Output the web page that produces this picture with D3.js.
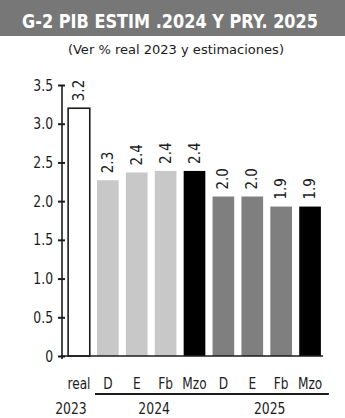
<!DOCTYPE html>
<html><head><meta charset="utf-8">
<script src="https://cdn.jsdelivr.net/npm/d3@7/dist/d3.min.js"></script>
<style>
body{margin:0;background:#fff;}
text{font-family:"DejaVu Sans Condensed","DejaVu Sans",sans-serif;font-stretch:condensed;}
</style></head>
<body><svg id="c" width="345" height="418"></svg>
<script>
const categories = ["real","D","E","Fb","Mzo","D","E","Fb","Mzo"];
const values = [3.2, 2.27, 2.37, 2.39, 2.39, 2.06, 2.06, 1.93, 1.93];
const valueLabels = ["3.2","2.3","2.4","2.4","2.4","2.0","2.0","1.9","1.9"];
const groups = ["2023","2024","2024","2024","2024","2025","2025","2025","2025"];
const yTicks = [0,0.5,1.0,1.5,2.0,2.5,3.0,3.5];
const yTickLabels = ["0","0.5","1.0","1.5","2.0","2.5","3.0","3.5"];
const colors = ["#ffffff","#c8c8c8","#c8c8c8","#c8c8c8","#000000","#7f7f7f","#7f7f7f","#7f7f7f","#000000"];

const svg = d3.select("#c");
const ink = "#1c1c1c";

function condense(sel, f){
  sel.each(function(){
    const w = this.getComputedTextLength();
    d3.select(this).attr("textLength", w*f).attr("lengthAdjust","spacingAndGlyphs");
  });
}

// header
svg.append("rect").attr("x",0).attr("y",0).attr("width",345).attr("height",36).attr("fill","#777777");
svg.append("text").attr("x",170).attr("y",28).attr("text-anchor","middle")
  .attr("fill","#fff").attr("font-weight","bold").attr("font-size",19)
  .attr("textLength",296).attr("lengthAdjust","spacingAndGlyphs")
  .text("G-2  PIB ESTIM .2024 Y PRY. 2025");
svg.append("text").attr("x",176).attr("y",54).attr("text-anchor","middle")
  .attr("fill",ink).attr("font-size",13)
  .attr("textLength",216).attr("lengthAdjust","spacingAndGlyphs")
  .text("(Ver % real 2023 y estimaciones)");

const idx = categories.map((d,i)=>i);
const x = d3.scaleBand().domain(idx).range([64.5,324.5]).paddingInner(0.25).paddingOuter(0.125);
const y = d3.scaleLinear().domain([0,3.5]).range([356,85]);

// bars
svg.append("g").selectAll("rect").data(idx).join("rect")
  .attr("x",i=>x(i)).attr("width",x.bandwidth())
  .attr("y",i=>y(values[i])).attr("height",i=>y(0)-y(values[i]))
  .attr("fill",i=>colors[i])
  .attr("stroke",i=>i===0?ink:"none").attr("stroke-width",1.6);

// value labels
svg.append("g").selectAll("text").data(idx).join("text")
  .attr("transform",i=>`translate(${x(i)+x.bandwidth()/2+5},${y(values[i])-7}) rotate(-90)`)
  .attr("fill",ink).attr("font-size",15)
  .text(i=>valueLabels[i]);

// y axis
const yAxis = d3.axisLeft(y).tickValues(yTicks).tickFormat((d,i)=>yTickLabels[i]).tickSize(0).tickPadding(9);
const gy = svg.append("g").attr("transform","translate(62,0)").call(yAxis);
gy.select(".domain").remove();
gy.selectAll("text").attr("font-size",16).attr("fill",ink).attr("font-family",null);
condense(gy.selectAll("text"), 0.86);
gy.selectAll(".tick").append("line").attr("x1",-4).attr("x2",3).attr("stroke",ink).attr("stroke-width",2);
svg.append("line").attr("x1",62).attr("x2",62).attr("y1",y(3.5)).attr("y2",359).attr("stroke",ink).attr("stroke-width",1.6);
svg.append("line").attr("x1",61).attr("x2",323).attr("y1",y(0)).attr("y2",y(0)).attr("stroke",ink).attr("stroke-width",1.6);

// x axis labels
const xAxis = d3.axisBottom(x).tickFormat(i=>categories[i]).tickSize(0).tickPadding(22);
const gx = svg.append("g").attr("transform",`translate(0,${y(0)})`).call(xAxis);
gx.select(".domain").remove();
gx.selectAll("text").attr("font-size",15).attr("fill",ink).attr("font-family",null);
condense(gx.selectAll("text"), 0.9);

// group labels and lines
const yearNames = ["2023","2024","2025"];
yearNames.forEach(g=>{
  const members = idx.filter(i=>groups[i]===g);
  const x0 = x(members[0]) - (g==="2023"?4:2);
  const x1 = x(members[members.length-1]) + x.bandwidth() + (g==="2023"?0:8);
  const cx = g==="2023" ? x(members[0])+x.bandwidth()/2-8 : (x0+x1)/2;
  if(g!=="2023"){
    svg.append("line").attr("x1",x0).attr("x2",x1).attr("y1",394).attr("y2",394).attr("stroke",ink).attr("stroke-width",2);
  }
  const t = svg.append("text").attr("x",cx).attr("y",414).attr("text-anchor","middle")
    .attr("fill",ink).attr("font-size",15).text(g);
  condense(t, 0.92);
});
</script></body></html>
